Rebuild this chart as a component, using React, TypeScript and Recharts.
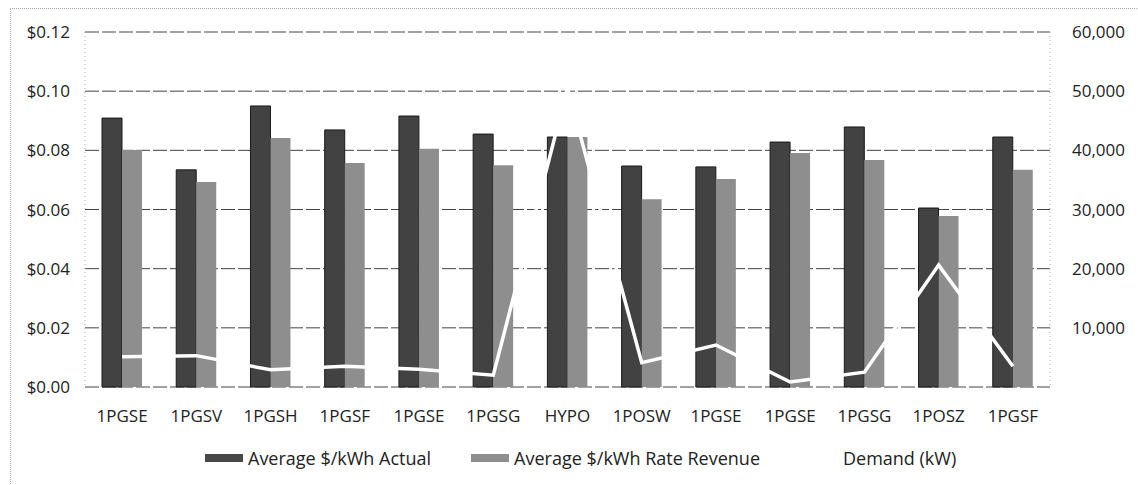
import React from "react";
import {
  ComposedChart,
  Bar,
  Line,
  XAxis,
  YAxis,
  CartesianGrid,
  Legend,
} from "recharts";

// rate codes along the x axis
const rateCodes = [
  "1PGSE", "1PGSV", "1PGSH", "1PGSF", "1PGSE", "1PGSG", "HYPO",
  "1POSW", "1PGSE", "1PGSE", "1PGSG", "1POSZ", "1PGSF",
];

// $/kWh, left axis
const avgActual = [
  0.0909, 0.0734, 0.095, 0.0869, 0.0916, 0.0855, 0.0845,
  0.0747, 0.0744, 0.0828, 0.0879, 0.0605, 0.0845,
];
const avgRateRevenue = [
  0.0801, 0.0693, 0.0842, 0.0757, 0.0805, 0.075, 0.0845,
  0.0635, 0.0703, 0.0791, 0.0767, 0.0578, 0.0734,
];

// kW, right axis
const demandKw = [
  5100, 5300, 2900, 3500, 3000, 2000, 50500,
  4100, 7100, 850, 2500, 20600, 3500,
];

const priceTicks = [0, 0.02, 0.04, 0.06, 0.08, 0.1, 0.12];
const demandTicks = [10000, 20000, 30000, 40000, 50000, 60000];

const data = rateCodes.map((code, i) => ({
  code,
  actual: avgActual[i],
  revenue: avgRateRevenue[i],
  demand: demandKw[i],
}));

const FONT = "'Open Sans', sans-serif";
const TEXT = "#222";

const swatches: Record<string, React.CSSProperties> = {
  actual: { background: "#474747", height: 8 },
  revenue: { background: "#8e8e8e", height: 8 },
  demand: { background: "#fff", height: 3 },
};

const legendLabels: Record<string, string> = {
  actual: "Average $/kWh Actual",
  revenue: "Average $/kWh Rate Revenue",
  demand: "Demand (kW)",
};

const ChartLegend = () => (
  <div
    style={{
      display: "flex",
      alignItems: "center",
      height: 30,
      paddingLeft: 205,
      fontFamily: FONT,
      fontSize: 18,
      color: TEXT,
    }}
  >
    {["actual", "revenue", "demand"].map((k) => (
      <div key={k} style={{ display: "flex", alignItems: "center", marginRight: 40 }}>
        <span style={{ display: "inline-block", width: 38, marginRight: 5, ...swatches[k] }} />
        <span>{legendLabels[k]}</span>
      </div>
    ))}
  </div>
);

const App = () => {
  return (
    <div
      style={{
        position: "absolute",
        left: 0,
        top: 0,
        width: 1138,
        height: 485,
        background: "#fff",
      }}
    >
      <div
        style={{
          position: "absolute",
          left: 10,
          top: 8,
          width: 1128,
          height: 477,
          borderLeft: "1px dotted #aaa",
          borderTop: "1px dotted #aaa",
        }}
      />
      <ComposedChart
        width={1138}
        height={485}
        data={data}
        margin={{ top: 32, right: 0, bottom: 28, left: 0 }}
        barGap={0}
        style={{ fontFamily: FONT }}
      >
        <CartesianGrid
          yAxisId="left"
          vertical={false}
          stroke="#444"
          strokeDasharray="14 3"
        />
        <XAxis
          dataKey="code"
          height={40}
          tickSize={0}
          tickMargin={23}
          axisLine={false}
          tick={{ fill: TEXT, fontSize: 17, fontFamily: FONT }}
        />
        <YAxis
          yAxisId="left"
          width={85}
          domain={[0, 0.12]}
          ticks={priceTicks}
          tickFormatter={(v: number) => `$${v.toFixed(2)}`}
          tickSize={0}
          tickMargin={15}
          axisLine={{ stroke: "#aaa", strokeDasharray: "1 3" }}
          tick={{ fill: TEXT, fontSize: 17, fontFamily: FONT }}
        />
        <YAxis
          yAxisId="right"
          orientation="right"
          width={88}
          domain={[0, 60000]}
          ticks={demandTicks}
          tickFormatter={(v: number) => v.toLocaleString("en-US")}
          tickSize={0}
          tickMargin={22}
          axisLine={{ stroke: "#aaa", strokeDasharray: "1 3" }}
          tick={{ fill: TEXT, fontSize: 17, fontFamily: FONT }}
        />
        <Legend
          verticalAlign="bottom"
          height={30}
          content={() => <ChartLegend />}
          wrapperStyle={{ left: 0, top: 443, bottom: "auto", width: 1138 }}
        />
        <Bar
          yAxisId="left"
          dataKey="actual"
          name="Average $/kWh Actual"
          fill="#424242"
          stroke="#1a1a1a"
          strokeWidth={1}
          barSize={20}
          isAnimationActive={false}
        />
        <Bar
          yAxisId="left"
          dataKey="revenue"
          name="Average $/kWh Rate Revenue"
          fill="#8e8e8e"
          barSize={20}
          isAnimationActive={false}
        />
        <Line
          yAxisId="right"
          type="linear"
          dataKey="demand"
          name="Demand (kW)"
          stroke="#fff"
          strokeWidth={3.5}
          dot={false}
          activeDot={false}
          isAnimationActive={false}
        />
      </ComposedChart>
    </div>
  );
};

export default App;
